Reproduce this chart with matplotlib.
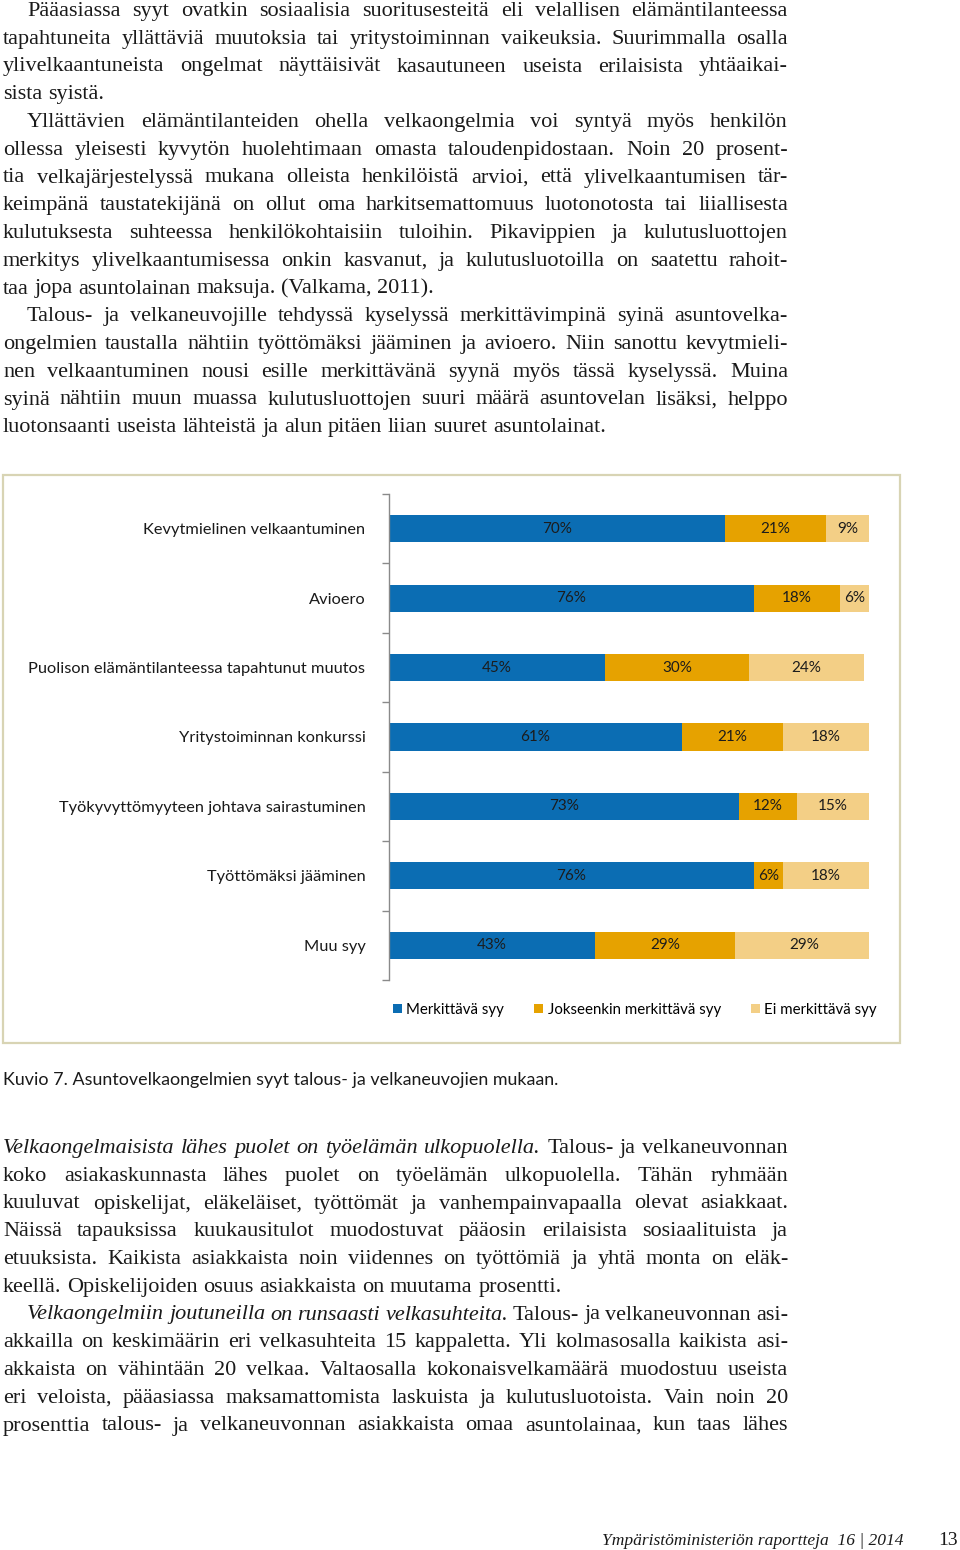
import matplotlib
matplotlib.use("Agg")
import matplotlib.pyplot as plt
from matplotlib.patches import Rectangle

# chart data
categories = ["Kevytmielinen velkaantuminen", "Avioero",
              "Puolison elämäntilanteessa tapahtunut muutos",
              "Yritystoiminnan konkurssi",
              "Työkyvyttömyyteen johtava sairastuminen",
              "Työttömäksi jääminen", "Muu syy"]
merkittava = [70, 76, 45, 61, 73, 76, 43]
jokseenkin = [21, 18, 30, 21, 12, 6, 29]
ei_merkittava = [9, 6, 24, 18, 15, 18, 29]
series_names = ["Merkittävä syy", "Jokseenkin merkittävä syy", "Ei merkittävä syy"]
colors = ["#0b6db3", "#e6a200", "#f3cf86"]

# page text: (line, number of italic words at start, justify?, indent?)
top_text = [
    ("Pääasiassa syyt ovatkin sosiaalisia suoritusesteitä eli velallisen elämäntilanteessa", 0, True, True),
    ("tapahtuneita yllättäviä muutoksia tai yritystoiminnan vaikeuksia. Suurimmalla osalla", 0, True, False),
    ("ylivelkaantuneista ongelmat näyttäisivät kasautuneen useista erilaisista yhtäaikai-", 0, True, False),
    ("sista syistä.", 0, False, False),
    ("Yllättävien elämäntilanteiden ohella velkaongelmia voi syntyä myös henkilön", 0, True, True),
    ("ollessa yleisesti kyvytön huolehtimaan omasta taloudenpidostaan. Noin 20 prosent-", 0, True, False),
    ("tia velkajärjestelyssä mukana olleista henkilöistä arvioi, että ylivelkaantumisen tär-", 0, True, False),
    ("keimpänä taustatekijänä on ollut oma harkitsemattomuus luotonotosta tai liiallisesta", 0, True, False),
    ("kulutuksesta suhteessa henkilökohtaisiin tuloihin. Pikavippien ja kulutusluottojen", 0, True, False),
    ("merkitys ylivelkaantumisessa onkin kasvanut, ja kulutusluotoilla on saatettu rahoit-", 0, True, False),
    ("taa jopa asuntolainan maksuja. (Valkama, 2011).", 0, False, False),
    ("Talous- ja velkaneuvojille tehdyssä kyselyssä merkittävimpinä syinä asuntovelka-", 0, True, True),
    ("ongelmien taustalla nähtiin työttömäksi jääminen ja avioero. Niin sanottu kevytmieli-", 0, True, False),
    ("nen velkaantuminen nousi esille merkittävänä syynä myös tässä kyselyssä. Muina", 0, True, False),
    ("syinä nähtiin muun muassa kulutusluottojen suuri määrä asuntovelan lisäksi, helppo", 0, True, False),
    ("luotonsaanti useista lähteistä ja alun pitäen liian suuret asuntolainat.", 0, False, False),
]
bottom_text = [
    ("Velkaongelmaisista lähes puolet on työelämän ulkopuolella. Talous- ja velkaneuvonnan", 6, True, False),
    ("koko asiakaskunnasta lähes puolet on työelämän ulkopuolella. Tähän ryhmään", 0, True, False),
    ("kuuluvat opiskelijat, eläkeläiset, työttömät ja vanhempainvapaalla olevat asiakkaat.", 0, True, False),
    ("Näissä tapauksissa kuukausitulot muodostuvat pääosin erilaisista sosiaalituista ja", 0, True, False),
    ("etuuksista. Kaikista asiakkaista noin viidennes on työttömiä ja yhtä monta on eläk-", 0, True, False),
    ("keellä. Opiskelijoiden osuus asiakkaista on muutama prosentti.", 0, False, False),
    ("Velkaongelmiin joutuneilla on runsaasti velkasuhteita. Talous- ja velkaneuvonnan asi-", 5, True, True),
    ("akkailla on keskimäärin eri velkasuhteita 15 kappaletta. Yli kolmasosalla kaikista asi-", 0, True, False),
    ("akkaista on vähintään 20 velkaa. Valtaosalla kokonaisvelkamäärä muodostuu useista", 0, True, False),
    ("eri veloista, pääasiassa maksamattomista laskuista ja kulutusluotoista. Vain noin 20", 0, True, False),
    ("prosenttia talous- ja velkaneuvonnan asiakkaista omaa asuntolainaa, kun taas lähes", 0, True, False),
]

W, H = 960, 1550
fig = plt.figure(figsize=(W / 100, H / 100), dpi=100)
fig.patch.set_facecolor("white")
renderer = fig.canvas.get_renderer()

serif = "Liberation Serif"
sans = "Lato"
X0, X1, INDENT = 3, 788, 24


def fx(x):
    return x / W


def fy(y):
    return 1 - y / H


def text_width(s, style, size):
    t = fig.text(0, 0, s, family=serif, size=size, style=style)
    w = t.get_window_extent(renderer).width
    t.remove()
    return w


def line_parts(line, n_italic):
    words = line.split(" ")
    styles = ["italic" if i < n_italic else "normal" for i in range(len(words))]
    return words, styles


# pick the body size so the tightest justified line just fits (like a typeset page)
ref_size = 10
sp10 = text_width("a a", "normal", ref_size) - text_width("aa", "normal", ref_size)
ratios = []
for line, n_it, just, ind in top_text + bottom_text:
    if not just:
        continue
    words, styles = line_parts(line, n_it)
    nat = sum(text_width(w, s, ref_size) for w, s in zip(words, styles)) + 0.8 * sp10 * (len(words) - 1)
    ratios.append((X1 - X0 - (INDENT if ind else 0)) / nat)
body_size = ref_size * min(ratios)
space_w = sp10 * body_size / ref_size


def put_line(y, line, n_italic, justify, indent):
    words, styles = line_parts(line, n_italic)
    left = X0 + (INDENT if indent else 0)
    widths = [text_width(w, s, body_size) for w, s in zip(words, styles)]
    gap = space_w
    if justify and len(words) > 1:
        gap = (X1 - left - sum(widths)) / (len(words) - 1)
    x = left
    for w, s, wd in zip(words, styles, widths):
        fig.text(fx(x), fy(y), w, family=serif, size=body_size, style=s,
                 color="#1a1a1a", va="baseline", ha="left")
        x += wd + gap


for i, (line, n_it, just, ind) in enumerate(top_text):
    put_line(16 + 27.75 * i, line, n_it, just, ind)

for i, (line, n_it, just, ind) in enumerate(bottom_text):
    put_line(1153 + 27.75 * i, line, n_it, just, ind)

# chart frame
fig.patches.append(Rectangle((fx(3), fy(1043)), fx(897), (1043 - 475) / H,
                             transform=fig.transFigure, fill=False,
                             edgecolor="#d8d4b4", linewidth=1.6))

# stacked bars
ax = fig.add_axes([fx(389), fy(980), fx(480), (980 - 494) / H])
ypos = list(range(len(categories)))
left = [0] * len(categories)
bars = []
for vals, name, c in zip([merkittava, jokseenkin, ei_merkittava], series_names, colors):
    b = ax.barh(ypos, vals, left=left, height=0.39, color=c, label=name)
    bars.append(b)
    for yy, l, v in zip(ypos, left, vals):
        ax.text(l + v / 2, yy, f"{v}%", ha="center", va="center",
                family=sans, size=11, color="#1c1c1c")
    left = [l + v for l, v in zip(left, vals)]

ax.set_xlim(0, 100)
ax.set_ylim(6.5, -0.5)
ax.set_xticks([])
ax.set_yticks(ypos)
ax.set_yticklabels(categories, family=sans, size=11.8, color="#1a1a1a")
ax.set_yticks([i - 0.5 for i in range(len(categories) + 1)], minor=True)
ax.tick_params(axis="y", which="major", length=0, pad=17)
ax.tick_params(axis="y", which="minor", length=5, width=1, color="#8a8a8a", direction="out")
for s in ["top", "right", "bottom"]:
    ax.spines[s].set_visible(False)
ax.spines["left"].set_color("#8a8a8a")
ax.spines["left"].set_linewidth(1)

fig.legend(handles=bars, labels=series_names, loc="center",
           bbox_to_anchor=(fx(635), fy(1010)), ncol=3, frameon=False,
           prop={"family": sans, "size": 10.8}, handlelength=0.6, handleheight=0.6,
           handletextpad=0.3, columnspacing=2.0)

# caption
fig.text(fx(3), fy(1085), "Kuvio 7. Asuntovelkaongelmien syyt talous- ja velkaneuvojien mukaan.",
         family=sans, size=12.9, color="#1a1a1a", va="baseline")

# footer
fig.text(fx(903), fy(1545), "Ympäristöministeriön raportteja  16 | 2014",
         family=serif, style="italic", size=12.6, color="#1a1a1a", ha="right", va="baseline")
fig.text(fx(958), fy(1545), "13", family=serif, size=14, color="#1a1a1a",
         ha="right", va="baseline")

fig.savefig("out.png", dpi=100)
